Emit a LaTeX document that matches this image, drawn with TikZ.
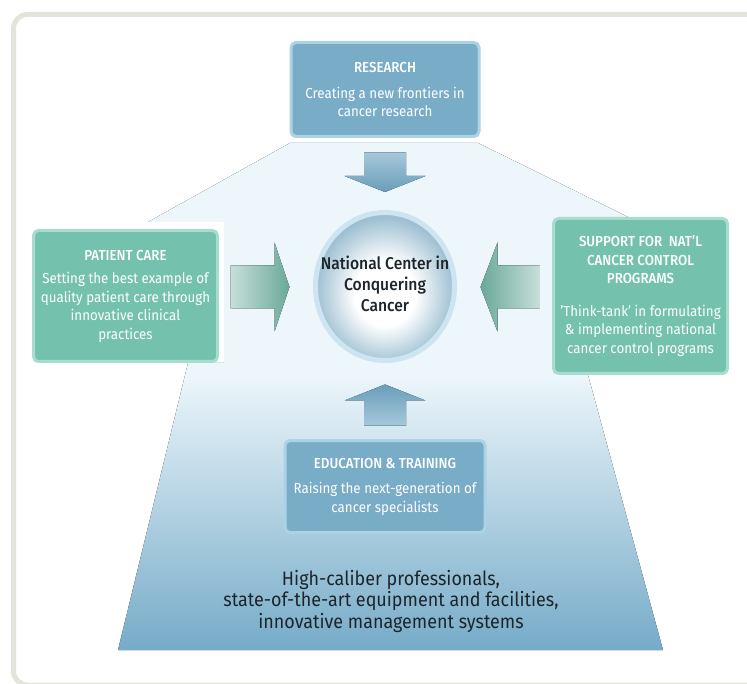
\documentclass[tikz,border=0pt]{standalone}
\usepackage{fontspec}
\setmainfont{Fira Sans}[FakeStretch=0.92, BoldFont={Fira Sans Medium}]
\usetikzlibrary{shapes.geometric, positioning, calc}

\definecolor{paleblue}{HTML}{ECF6FB}
\definecolor{baseblue}{HTML}{76ABC8}
\definecolor{boxblue}{HTML}{79ACC7}
\definecolor{rimblue}{HTML}{ACD3E4}
\definecolor{boxgreen}{HTML}{74C2AD}
\definecolor{rimgreen}{HTML}{A8DCCE}
\definecolor{arrowteal}{HTML}{6AA999}
\definecolor{arrowmint}{HTML}{C6DFD9}
\definecolor{arrowsteel}{HTML}{6A9DBA}
\definecolor{arrowsky}{HTML}{A6C8DA}
\definecolor{hubedge}{HTML}{9DBFD1}
\definecolor{hubrim}{HTML}{CCE5F1}
\definecolor{framegray}{HTML}{E4E4DC}
\definecolor{inkdark}{HTML}{1D252B}

% pale at the top, blue towards the base
\pgfdeclareverticalshading{basefade}{100bp}{color(0bp)=(baseblue); color(25bp)=(baseblue);
    color(52bp)=(paleblue); color(100bp)=(paleblue)}
% white core for the hub
\pgfdeclareradialshading{hubglow}{\pgfpoint{0bp}{-3bp}}{color(0bp)=(white); color(11bp)=(white);
    color(25bp)=(hubedge); color(50bp)=(hubedge)}

\begin{document}
\begin{tikzpicture}[x=1pt, y=1pt, font=\fontsize{14.5}{18.5}\selectfont,
    bluebox/.style={
        rectangle,
        rounded corners=5pt,
        fill=boxblue,
        draw=rimblue,
        text=white,
        align=center,
        line width=3pt
    }, greenbox/.style={
        rectangle,
        rounded corners=5pt,
        fill=boxgreen,
        draw=rimgreen,
        text=white,
        align=center,
        line width=3pt
    }, hubstyle/.style={
        ellipse,
        shading=hubglow,
        draw=hubrim,
        text=inkdark,
        minimum width=139pt,
        minimum height=148pt,
        inner xsep=-16pt,
        line width=5pt,
        font=\fontsize{17}{21}\selectfont\bfseries
    }]
    \useasboundingbox (0,0) rectangle (747,-684);
    \clip (0,0) rectangle (747,-684);

    % frame and background
    \draw [framegray, line width=5pt, rounded corners=14pt] (13.5,-14.5) rectangle (770,-685);
    \fill [shading=basefade] (290,-143) -- (148,-222) -- (224,-222) -- (224,-363) -- (188,-363)
        -- (118,-650) -- (663,-650) -- (588,-375) -- (600,-300) -- (628,-217) -- (478,-143) -- cycle;

    % nodes
    \node (hub) [hubstyle] at (385,-286.5)
        {\raisebox{-7pt}{\begin{tabular}{@{}c@{}}National Center in\\Conquering\\Cancer\end{tabular}}};
    \node (research) [bluebox, minimum width=188pt, minimum height=94pt, above=72pt of hub]
        {\bfseries RESEARCH\\[7pt] Creating a new frontiers in\\cancer research};
    \node (care) [greenbox, minimum width=184pt, minimum height=131pt, left=94pt of hub, yshift=-9.5pt]
        {\bfseries PATIENT CARE\\[5pt] Setting the best example of\\quality patient care through\\innovative clinical\\practices};
    \node (support) [greenbox, minimum width=174pt, minimum height=155pt, right=95pt of hub, yshift=-9.5pt]
        {\bfseries SUPPORT FOR\ \ NAT'L\\\bfseries CANCER CONTROL\\\bfseries PROGRAMS\\[14pt] 'Think-tank' in formulating\\\& implementing national\\cancer control programs};
    \node (edu) [bluebox, minimum width=200pt, minimum height=92pt, below=76pt of hub]
        {\bfseries EDUCATION \& TRAINING\\[7pt] Raising the next-generation of\\cancer specialists};
    \node (base) [text=inkdark, align=center, font=\fontsize{19.5}{21.5}\selectfont] at (391,-601)
        {High-caliber professionals,\\state-of-the-art equipment and facilities,\\innovative management systems};

    % block arrows into the hub
    \fill [top color=arrowsky, bottom color=arrowsteel] ($(research.south)+(-21,-14.5)$) -- ++(42,0) -- ++(0,-23.5)
        -- ++(19.5,0) -- ++(-40.5,-16) -- ++(-40.5,16) -- ++(19.5,0) -- cycle;
    \fill [top color=arrowsteel, bottom color=arrowsky] ($(edu.north)+(-21,13.5)$) -- ++(42,0) -- ++(0,25)
        -- ++(19.5,0) -- ++(-40.5,16) -- ++(-40.5,-16) -- ++(19.5,0) -- cycle;
    \fill [left color=arrowmint, right color=arrowteal] ($(care.east)+(11.5,30.5)$) -- ++(44,0) -- ++(0,23)
        -- ++(15,-44.5) -- ++(-15,-44.5) -- ++(0,23) -- ++(-44,0) -- cycle;
    \fill [left color=arrowteal, right color=arrowmint] ($(support.west)+(-12.5,30.5)$) -- ++(-42,0) -- ++(0,23)
        -- ++(-17,-44.5) -- ++(17,-44.5) -- ++(0,23) -- ++(42,0) -- cycle;

\end{tikzpicture}
\end{document}
